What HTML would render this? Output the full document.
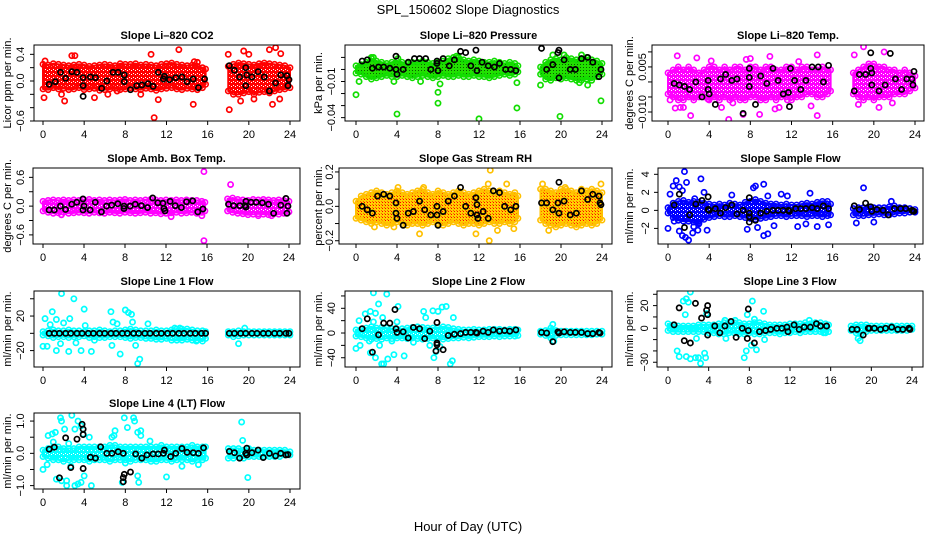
<!DOCTYPE html>
<html><head><meta charset="utf-8"><title>SPL_150602 Slope Diagnostics</title>
<style>
html,body{margin:0;padding:0;background:#fff;}
svg{display:block;font-family:"Liberation Sans",sans-serif;}
</style></head>
<body>
<svg id="fig" xmlns="http://www.w3.org/2000/svg" width="936" height="540" viewBox="0 0 936 540">
<defs>
<pattern id="patGreen" width="3" height="3" patternUnits="userSpaceOnUse"><rect width="3" height="3" fill="#22e000"/><rect x="1" y="1" width="1" height="1" fill="#0a5a00"/></pattern>
<pattern id="patRH" width="3" height="3" patternUnits="userSpaceOnUse"><rect width="3" height="3" fill="#ffd000"/><rect x="1" y="1" width="1" height="1" fill="#ff0000"/><rect x="0" y="0" width="1" height="1" fill="#ff6000"/></pattern>
<pattern id="patRed" width="4" height="4" patternUnits="userSpaceOnUse"><rect width="4" height="4" fill="#ff0000"/><rect x="1" y="1" width="1" height="1" fill="#fff"/><rect x="3" y="2" width="1" height="1" fill="#fff"/></pattern>
<pattern id="patMag" width="4" height="4" patternUnits="userSpaceOnUse"><rect width="4" height="4" fill="#ff00ff"/><rect x="1" y="1" width="1" height="1" fill="#fff"/><rect x="3" y="2" width="1" height="1" fill="#fff"/></pattern>
<pattern id="patBlue" width="4" height="4" patternUnits="userSpaceOnUse"><rect width="4" height="4" fill="#0000ff"/><rect x="1" y="1" width="1" height="1" fill="#fff"/><rect x="3" y="2" width="1" height="1" fill="#fff"/></pattern>
<pattern id="patCyan" width="4" height="4" patternUnits="userSpaceOnUse"><rect width="4" height="4" fill="#00ffff"/><rect x="1" y="1" width="1" height="1" fill="#fff"/><rect x="3" y="2" width="1" height="1" fill="#fff"/></pattern>
</defs>
<text x="468" y="14" text-anchor="middle" font-size="13">SPL_150602  Slope Diagnostics</text>
<text x="468" y="531" text-anchor="middle" font-size="13">Hour of Day (UTC)</text>
</svg>
<script>
const hours = [0,0.5,1,1.5,2,2.5,3,3.5,4,4.5,5,5.5,6,6.5,7,7.5,8,8.5,9,9.5,10,10.5,11,11.5,12,12.5,13,13.5,14,14.5,15,15.5,15.8,18,18.5,19,19.5,20,20.5,21,21.5,22,22.5,23,23.5,24];
const xTicks = [0,4,8,12,16,20,24];

const co2Hi = [0.25,0.24,0.26,0.25,0.24,0.23,0.24,0.25,0.24,0.22,0.23,0.24,0.25,0.24,0.23,0.26,0.25,0.25,0.26,0.24,0.25,0.24,0.23,0.25,0.26,0.27,0.25,0.24,0.23,0.24,0.22,0.2,0.18,0.22,0.25,0.27,0.26,0.25,0.24,0.26,0.27,0.26,0.25,0.24,0.23,0.2];
const co2Lo = [-0.12,-0.13,-0.1,-0.12,-0.11,-0.13,-0.12,-0.1,-0.13,-0.12,-0.11,-0.14,-0.13,-0.12,-0.11,-0.13,-0.12,-0.1,-0.12,-0.13,-0.11,-0.12,-0.14,-0.12,-0.11,-0.1,-0.12,-0.13,-0.11,-0.12,-0.13,-0.1,-0.05,-0.15,-0.2,-0.2,-0.18,-0.16,-0.2,-0.17,-0.16,-0.18,-0.15,-0.13,-0.12,-0.1];
const co2Out = [[0.1,-0.25],[2.1,-0.3],[2.8,0.38],[3.1,0.38],[10.8,-0.55],[10.5,0.4],[11.2,-0.28],[13.2,0.47],[14.6,-0.35],[14.7,0.29],[15,0.28],[18,0.4],[18.1,-0.43],[19.5,0.45],[20,0.4],[22,0.47],[22.6,0.5],[22.3,-0.35],[23.1,0.41],[23,-0.27],[19.2,-0.3],[20.5,-0.27],[1.8,-0.2],[5,-0.25],[7.2,-0.15],[9.5,-0.2],[6.3,-0.2],[0.2,0.3]];
const co2Blk = [[0.6,-0.05],[1.2,-0.01],[1.7,0.13],[2.2,0.04],[2.8,0.14],[3.3,0.13],[3.9,0.05],[3.9,-0.07],[3.9,-0.23],[4.6,0.06],[5.1,0.05],[5.7,-0.11],[6.2,0],[6.8,0.13],[7.3,0.13],[7.9,0.09],[7.9,-0.01],[8.5,-0.13],[9.1,-0.07],[9.6,-0.06],[10.2,-0.04],[10.7,-0.08],[11.2,0.13],[11.7,0.03],[11.8,0.07],[12.3,0.02],[12.9,0.05],[13.5,0.06],[14,-0.01],[14.6,0.03],[15.1,-0.1],[15.7,0.03],[18.1,0.23],[18.6,0.16],[19.1,0.06],[19.7,0.2],[19.8,0.09],[19.7,-0.07],[20.3,0.06],[20.9,0.14],[21.5,0.06],[22,-0.15],[22.6,-0.03],[23.1,0.09],[23.7,0.08],[23.8,-0.07],[23.9,0.02]];

const presHi = [0.003,0.004,0.006,0.009,0.007,0.006,0.005,0.006,0.007,0.006,0.005,0.006,0.006,0.007,0.006,0.005,0.006,0.007,0.009,0.01,0.01,0.008,0.007,0.008,0.007,0.006,0.006,0.007,0.006,0.005,0.006,0.005,0.003,0.002,0.006,0.008,0.009,0.008,0.01,0.009,0.008,0.009,0.01,0.008,0.007,0.005];
const presLo = [-0.003,-0.004,-0.006,-0.008,-0.007,-0.006,-0.005,-0.006,-0.006,-0.005,-0.006,-0.007,-0.006,-0.005,-0.006,-0.007,-0.006,-0.005,-0.006,-0.006,-0.005,-0.006,-0.006,-0.005,-0.006,-0.006,-0.007,-0.006,-0.005,-0.004,-0.005,-0.004,-0.002,-0.004,-0.008,-0.009,-0.007,-0.008,-0.007,-0.008,-0.009,-0.009,-0.008,-0.009,-0.006,-0.004];
const presOut = [[0,-0.021],[0.3,-0.01],[4,-0.037],[8,-0.019],[8,-0.028],[8.2,-0.012],[12,-0.041],[15.7,-0.032],[15.7,-0.011],[18,-0.013],[19.9,-0.039],[20.3,0.012],[9.8,0.011],[10,0.01],[1.5,0.01],[1.7,0.01],[22,0.012],[23.9,-0.026],[4.1,0.009],[6.3,-0.01],[3.7,-0.01],[21.8,-0.011],[22.6,-0.013],[19.2,0.012]];
const presBlk = [[0.6,0.007],[1.1,0.008],[1.6,0.001],[2.2,0.002],[2.7,0.002],[3.3,0.001],[3.9,0.011],[3.9,0],[4,-0.004],[4.6,0],[5.1,0.006],[5.7,0.009],[6.2,0.009],[6.8,0.009],[7.3,0],[7.9,0.007],[7.9,0.005],[8,-0.001],[8.5,0.009],[9.1,0.003],[9.6,0.008],[10.2,0.015],[10.7,0.014],[11.2,0.003],[11.7,0.016],[11.8,-0.001],[12.3,0.006],[12.9,0.003],[13.5,0.002],[14,0.005],[14.6,0],[15.1,0],[15.6,-0.001],[18.1,0.0175],[18.6,0],[19.2,0.004],[19.7,0.014],[19.8,0.016],[19.8,-0.007],[20.3,0.008],[20.9,0],[21.4,0],[22,0.009],[22.6,0.01],[23.1,0.006],[23.7,-0.006],[23.9,0]];

const tempHi = [0.003,0.004,0.005,0.004,0.005,0.004,0.003,0.004,0.005,0.005,0.004,0.005,0.004,0.005,0.005,0.004,0.005,0.005,0.004,0.005,0.005,0.004,0.004,0.005,0.005,0.004,0.005,0.005,0.004,0.004,0.005,0.004,0.004,0.003,0.004,0.005,0.006,0.006,0.005,0.005,0.004,0.004,0.003,0.004,0.003,0.002];
const tempLo = [-0.004,-0.005,-0.006,-0.006,-0.005,-0.006,-0.005,-0.005,-0.006,-0.005,-0.006,-0.005,-0.006,-0.005,-0.006,-0.006,-0.005,-0.005,-0.006,-0.006,-0.005,-0.006,-0.005,-0.005,-0.006,-0.005,-0.005,-0.004,-0.004,-0.005,-0.005,-0.004,-0.003,-0.004,-0.005,-0.006,-0.005,-0.006,-0.005,-0.005,-0.005,-0.004,-0.004,-0.004,-0.003,-0.002];
const tempOut = [[0.9,0.0087],[2.2,-0.0112],[0.7,-0.0087],[1.2,-0.0085],[2.8,0.008],[5.9,-0.0125],[7.3,-0.0108],[8.9,-0.0108],[9.9,0.0085],[10.4,-0.009],[14.5,-0.0112],[13.9,-0.008],[14.5,0.009],[18.1,0.009],[19,0.0117],[21,0.01],[18.5,-0.0075],[20.5,-0.0085],[21.8,-0.007],[0.2,-0.006],[3.9,-0.0058],[6.3,-0.007],[11.6,-0.006],[12.7,0.0068],[8,0.0078],[1.5,-0.0085],[5.2,-0.0085],[10.8,-0.0085],[7.6,0.0075],[4.2,0.007]];
const tempBlk = [[0.6,-0.0005],[1.1,-0.001],[1.6,-0.0015],[2.1,-0.0025],[2.7,0],[3.3,-0.005],[3.9,0.0005],[3.9,-0.0025],[4,-0.004],[4.6,-0.0075],[5.1,0.001],[5.6,0.0025],[6.2,0.0005],[6.7,0.001],[7.3,-0.0105],[7.9,0.0045],[7.9,0.0015],[7.9,-0.0015],[8.5,-0.0075],[9,0.002],[9.6,-0.0005],[10.2,0.0045],[10.7,0.0005],[11.2,-0.004],[11.7,-0.0035],[11.8,-0.0082],[11.9,0.0045],[12.3,0.0005],[12.9,-0.0025],[13.4,0.0005],[14,0.005],[14.6,0.005],[15.1,0],[15.6,0.0055],[18.1,-0.003],[18.6,0.0025],[19.2,0.0025],[19.7,0.0045],[19.8,0.003],[19.8,-0.001],[19.7,0.0097],[20.5,-0.003],[21.1,-0.001],[21.6,0.0095],[22.1,0.001],[22.7,-0.0025],[23.2,0.001],[23.7,0.001],[23.8,-0.001],[23.9,0.0035]];

const ambHi = [0.1,0.12,0.13,0.12,0.13,0.12,0.13,0.12,0.13,0.14,0.12,0.13,0.12,0.13,0.12,0.13,0.14,0.12,0.13,0.12,0.13,0.14,0.13,0.12,0.13,0.12,0.13,0.12,0.13,0.12,0.12,0.1,0.08,0.15,0.17,0.14,0.13,0.12,0.14,0.13,0.14,0.13,0.12,0.13,0.12,0.1];
const ambLo = [-0.1,-0.13,-0.15,-0.14,-0.13,-0.15,-0.14,-0.13,-0.14,-0.15,-0.13,-0.14,-0.15,-0.13,-0.14,-0.15,-0.13,-0.14,-0.15,-0.14,-0.13,-0.15,-0.14,-0.16,-0.15,-0.14,-0.13,-0.15,-0.14,-0.13,-0.15,-0.13,-0.1,-0.1,-0.13,-0.15,-0.16,-0.18,-0.17,-0.16,-0.17,-0.18,-0.16,-0.17,-0.15,-0.12];
const ambOut = [[15.7,0.72],[15.7,-0.72],[18.3,0.45],[12.5,-0.22],[15.5,-0.2],[22.3,-0.2],[1.8,-0.18],[21,-0.2]];
const ambBlk = [[0.6,-0.08],[1.1,-0.08],[1.7,0],[2.2,-0.07],[2.8,0.04],[3.3,0.08],[3.9,0.15],[3.9,-0.08],[4,0],[4.6,-0.08],[5.1,0.08],[5.7,-0.12],[6.2,0],[6.7,0.02],[7.3,0.05],[7.9,0],[7.9,-0.05],[8.5,0],[9,0.04],[9.6,0.01],[10.2,-0.03],[10.7,0.17],[11.2,0.07],[11.7,0.06],[11.8,-0.05],[11.9,-0.1],[12.4,0.1],[12.9,0.01],[13.5,-0.03],[14,0.09],[14.6,0.11],[15.1,-0.12],[15.6,-0.06],[18.1,0.04],[18.6,0.01],[19.2,0.01],[19.7,0.01],[19.8,-0.02],[19.8,0.1],[20.3,0.08],[20.8,0.08],[21.4,0.07],[22,0.04],[22.5,-0.15],[23.2,0.02],[23.7,0.16],[23.8,-0.15],[23.9,0]];

const rhHi = [0.03,0.06,0.07,0.08,0.09,0.08,0.07,0.08,0.09,0.08,0.07,0.08,0.09,0.1,0.08,0.07,0.09,0.08,0.07,0.08,0.09,0.08,0.07,0.08,0.09,0.1,0.09,0.08,0.09,0.08,0.07,0.08,0.06,0.1,0.1,0.09,0.08,0.1,0.1,0.09,0.08,0.1,0.09,0.1,0.09,0.08];
const rhLo = [-0.07,-0.08,-0.09,-0.1,-0.09,-0.1,-0.11,-0.1,-0.09,-0.1,-0.11,-0.1,-0.1,-0.11,-0.1,-0.09,-0.1,-0.11,-0.1,-0.09,-0.1,-0.11,-0.1,-0.1,-0.11,-0.1,-0.09,-0.1,-0.1,-0.09,-0.1,-0.09,-0.07,-0.08,-0.1,-0.11,-0.12,-0.11,-0.1,-0.11,-0.12,-0.11,-0.1,-0.11,-0.1,-0.08];
const rhOut = [[13.1,0.21],[13,-0.2],[6.2,-0.16],[11.7,-0.16],[13.8,-0.14],[18.8,-0.14],[14.7,0.13],[23.9,0.13],[1.8,-0.12],[3.7,-0.12],[12.9,0.13],[4.1,0.11],[6.6,0.11],[15.4,-0.13],[18.2,0.13],[20.4,0.11]];
const rhBlk = [[0.6,0],[1.1,-0.02],[1.6,-0.04],[2.1,0.06],[2.7,0.07],[3.3,0.06],[3.9,0.02],[3.9,-0.04],[4,-0.07],[4.6,-0.11],[5.1,-0.04],[5.6,-0.03],[6.2,0.03],[6.7,-0.02],[7.3,-0.05],[7.9,0],[7.9,-0.05],[8,-0.11],[8.5,-0.03],[9,0.03],[9.6,0.06],[10.2,0.11],[10.7,0],[11.2,-0.04],[11.7,0.05],[11.8,0.01],[11.8,-0.05],[11.9,-0.07],[12.4,-0.03],[12.9,-0.07],[13.4,0.09],[14,0.08],[14.5,0],[15.1,-0.02],[15.6,0],[18.1,0.02],[18.6,0.02],[19.2,-0.02],[19.7,0.02],[19.8,-0.04],[19.8,0.14],[20.3,0.03],[20.9,-0.05],[21.5,-0.04],[22,0.09],[22.6,0.04],[23.1,0.07],[23.7,0.06],[23.8,0.02],[23.9,0.01]];

const sampHi = [0.3,0.8,1.0,1.1,0.9,1.0,0.9,0.8,0.7,0.6,0.7,0.6,0.8,0.7,0.6,0.9,1.0,1.2,1.0,0.8,0.7,0.7,0.6,0.7,0.6,0.6,0.7,0.8,0.7,0.9,1.0,1.0,0.7,0.2,0.3,0.3,0.4,0.3,0.3,0.3,0.4,0.5,0.3,0.3,0.2,0.1];
const sampLo = [-0.3,-0.8,-1.1,-1.2,-1.2,-1.3,-1.5,-1.0,-0.8,-0.7,-0.6,-0.7,-0.7,-0.6,-0.7,-0.8,-0.9,-1.0,-0.9,-0.8,-0.7,-0.6,-0.6,-0.7,-0.6,-0.6,-0.6,-0.7,-0.6,-0.6,-0.7,-0.6,-0.5,-0.5,-0.6,-0.6,-0.5,-0.5,-0.4,-0.5,-0.5,-0.4,-0.3,-0.3,-0.2,-0.2];
const sampOut = [[0,-2],[0.2,1.8],[0.5,2.7],[0.8,3.3],[1.1,2.6],[1.6,4.3],[1.8,3.1],[1.4,2.2],[1.1,-2.3],[1.4,-2.8],[1.7,-3.0],[2.0,-3.3],[2.5,-1.8],[2.9,-2.2],[3.2,3.5],[3.5,2.0],[3.8,-2.2],[6.2,1.7],[7.7,-2.1],[8.3,2.5],[8.5,2.7],[9.3,2.9],[9.3,-2.8],[9.7,-2.6],[10.3,-1.7],[11,1.8],[11.6,1.6],[12.6,-1.8],[13.4,-1.5],[13.8,1.9],[14.5,-1.8],[15.6,-1.6],[18.3,-1.4],[19.0,2.5],[20,-1.3],[21.7,1.0],[9.7,1.6],[2.4,-2.5],[0.6,-1.2],[3.0,-1.4],[8.7,-1.9],[2.6,1.3]];
const sampBlk = [[0.6,0.6],[1.1,1.8],[1.6,-1.9],[2.1,-0.5],[2.7,0.7],[3.3,1.1],[3.9,1.5],[3.9,0.1],[4,0],[4.6,0.2],[5.1,-0.3],[5.6,0.3],[6.2,0.6],[6.7,-0.4],[7.3,0],[7.9,1.4],[7.9,-0.3],[7.9,-0.7],[7.9,-1.3],[8.5,-1.1],[9,-0.3],[9.6,-0.1],[10.2,0],[10.7,0],[11.2,0],[11.7,0],[11.8,-0.1],[12.4,0.2],[12.9,0.2],[13.4,0.2],[14,0.3],[14.5,0.2],[15.1,0.5],[15.6,0.2],[18.1,0.5],[18.6,0.1],[19.2,0.8],[19.7,0.4],[19.8,-0.1],[20.3,0.1],[20.9,0],[21.4,-0.5],[22,0.2],[22.6,0.2],[23.1,0.2],[23.7,0],[23.8,-0.1],[23.9,-0.1]];

const l1Hi = [2,3,4,3,3,4,3,3,2,3,3,4,3,2,3,3,4,5,4,3,3,3,4,3,3,4,5,5,5,4,3,3,2,2,2,3,2,2,2,2,2,2,2,2,2,2];
const l1Lo = [-2,-3,-5,-4,-4,-5,-4,-4,-3,-5,-4,-5,-5,-4,-4,-4,-5,-6,-5,-5,-6,-6,-7,-7,-6,-8,-8,-8,-7,-8,-8,-9,-6,-2,-4,-3,-2,-2,-2,-2,-2,-2,-2,-2,-2,-2];
const l1Out = [[1.8,46],[3.0,40],[0.9,25],[4.0,28],[6.6,25],[8.0,27],[8.3,24],[8.6,22],[0.2,17],[1.3,16],[2.0,12],[2.6,17],[6.8,13],[7.2,11],[8.7,13],[10.2,11],[0,-15],[0.4,-15],[1.3,-20],[2.5,-21],[3.7,-20],[4.7,-21],[7.5,-24],[9.2,-35],[9.4,-30],[9.0,-14],[6.7,-14],[3.2,-11],[1.7,-12],[19.0,-12],[19.6,6],[14.9,-9],[12.8,6],[13.3,6],[0.7,10],[4.1,9],[5.0,-8]];
const l1Blk = [[0.6,0],[1.1,0],[1.6,0],[2.2,0],[2.7,0],[3.3,0],[3.8,0],[4.4,0],[4.9,0],[5.5,0],[6.0,0],[6.6,0],[7.1,0],[7.7,0],[8.2,0],[8.8,0],[9.3,0],[9.9,0],[10.4,0],[11.0,0],[11.5,0],[12.1,0],[12.6,0],[13.2,0],[13.7,0],[14.3,0],[14.8,0],[15.4,0],[15.8,0],[18.1,0],[18.6,0],[19.2,0],[19.7,0],[20.3,0],[20.8,0],[21.4,0],[21.9,0],[22.5,0],[23.0,0],[23.6,0],[23.9,0]];

const l2Hi = [5,6,8,10,8,9,8,7,6,7,8,9,10,9,8,8,9,10,9,7,6,5,5,6,5,5,6,6,6,5,6,6,5,3,4,8,4,3,3,3,3,3,3,3,3,3];
const l2Lo = [-5,-6,-8,-10,-9,-10,-8,-9,-8,-8,-9,-8,-9,-10,-9,-8,-9,-10,-9,-8,-8,-7,-8,-7,-6,-6,-6,-5,-6,-5,-5,-5,-4,-2,-4,-8,-4,-3,-3,-3,-3,-3,-3,-3,-2,-2];
const l2Out = [[1.7,65],[3.0,63],[2.2,47],[4.1,43],[8.0,35],[8.4,42],[8.8,43],[1.4,35],[1.9,32],[0.9,31],[0.3,20],[6.6,35],[6.8,25],[7.5,36],[2.6,25],[9.5,25],[4.0,18],[0,-25],[0.4,-20],[1.3,-13],[1.4,-32],[1.9,-40],[2.5,-50],[2.7,-50],[3.1,-42],[2.3,-20],[3.7,-35],[4.7,-37],[7.6,-40],[7.8,-30],[9.2,-50],[9.4,-45],[7.2,-20],[19.2,14],[19.3,-13],[3.5,-13],[1.7,18],[5.6,-15],[8.2,-22]];
const l2Blk = [[0.6,7],[1.1,23],[1.6,-31],[2.2,-3],[2.7,16],[3.3,16],[3.8,38],[3.9,7],[4,1],[4.6,2],[5.1,-8],[5.6,9],[6.2,7],[6.7,-9],[7.2,3],[7.9,17],[7.9,-16],[7.9,-19],[7.8,-29],[8.5,-27],[9,-4],[9.6,-2],[10.2,-1],[10.7,1],[11.2,1],[11.7,1],[11.8,0],[12.4,3],[12.9,1],[13.4,5],[14,3],[14.5,4],[15,3],[15.6,5],[18.1,1],[18.6,0],[19.2,-14],[19.7,2],[19.8,0],[20.3,2],[20.9,1],[21.4,1],[22,1],[22.6,-1],[23.1,-1],[23.7,1],[23.8,0]];

const l3Hi = [4,3,2,2,2,2,3,3,3,3,4,5,5,5,5,4,4,5,5,4,3,3,3,3,4,4,4,5,4,5,5,4,3,2,3,3,3,2,2,2,2,2,2,2,2,2];
const l3Lo = [-2,-3,-3,-3,-3,-3,-3,-3,-4,-4,-5,-5,-4,-4,-5,-5,-4,-5,-5,-4,-4,-4,-5,-4,-4,-3,-4,-3,-3,-3,-3,-4,-3,-2,-4,-5,-3,-2,-2,-2,-2,-2,-2,-2,-2,-1];
const l3Out = [[1.5,24],[1.8,26],[2.2,32],[2.0,23],[1.7,12],[3.8,13],[8.3,24],[7.8,12],[9.4,15],[0.9,-20],[1.1,-25],[1.8,-25],[2.2,-27],[2.7,-26],[3.0,-26],[3.2,-31],[3.6,-22],[3.7,-26],[7.5,-26],[7.7,-20],[8.2,-15],[8.7,-19],[9.5,-10],[2.8,-9],[5.7,-9],[18.7,-9],[18.9,-11],[13.9,7],[15.3,-4],[5.6,7],[6.6,7],[8.5,8]];
const l3Blk = [[0.6,3],[1.1,18],[1.6,-11],[2.2,-13],[2.7,22],[3.3,9],[3.8,16],[3.9,20],[3.9,12],[3.9,-6],[4.6,2],[5.1,-4],[5.6,2],[6.2,6],[6.7,-8],[7.3,0],[7.9,17],[7.9,-2],[7.8,-9],[8.5,-13],[9,-3],[9.6,-2],[10.1,-1],[10.7,0],[11.2,0],[11.7,1],[11.8,-3],[12.4,3],[12.9,-1],[13.4,1],[14,1],[14.6,4],[15,2],[15.6,2],[18.1,-1],[18.6,-1],[19.2,-6],[19.7,0],[19.8,0],[20.3,0],[20.9,-1],[21.4,0],[22,1],[22.6,-1],[23.1,-1],[23.7,0],[23.8,-1]];

const l4Hi = [0.1,0.15,0.2,0.2,0.15,0.15,0.15,0.2,0.2,0.2,0.2,0.2,0.2,0.25,0.25,0.2,0.2,0.2,0.2,0.2,0.2,0.2,0.2,0.25,0.2,0.2,0.2,0.2,0.2,0.25,0.2,0.2,0.2,0.15,0.15,0.15,0.1,0.15,0.1,0.1,0.1,0.1,0.1,0.1,0.1,0.05];
const l4Lo = [-0.1,-0.15,-0.2,-0.2,-0.25,-0.2,-0.2,-0.2,-0.2,-0.25,-0.2,-0.2,-0.2,-0.25,-0.2,-0.2,-0.2,-0.25,-0.2,-0.2,-0.2,-0.25,-0.25,-0.2,-0.2,-0.25,-0.2,-0.2,-0.2,-0.25,-0.2,-0.2,-0.15,-0.15,-0.15,-0.1,-0.15,-0.1,-0.1,-0.1,-0.1,-0.1,-0.1,-0.1,-0.05,-0.05];
const l4Out = [[0.5,0.55],[0.9,0.6],[1.2,0.65],[1.7,1.1],[1.8,1.0],[2.1,0.75],[2.8,1.18],[3.1,0.75],[3.4,1.0],[3.7,0.85],[3.9,0.6],[7.0,0.7],[7.9,1.1],[8.2,0.8],[8.8,1.1],[8.9,1.0],[9.2,0.65],[9.5,0.7],[9.5,0.55],[10.4,0.38],[19.3,0.97],[19.4,0.4],[0,-0.5],[0.4,-0.35],[1.3,-0.8],[1.8,-0.85],[2.3,-0.85],[2.3,-1.0],[2.7,-0.4],[3.1,-1.0],[3.4,-0.95],[3.7,-0.9],[4.7,-1.0],[4.0,-0.7],[7.7,-0.9],[8.0,-0.3],[9.3,-0.9],[9.2,-0.7],[12.0,-0.73],[13.5,-0.4],[15.1,-0.35],[19.9,-0.75],[4.5,0.5],[6.7,0.5],[6.9,0.55],[1.0,0.35],[2.5,0.3]];
const l4Blk = [[0.6,0.13],[1.1,0.19],[1.6,-0.76],[2.2,0.48],[2.7,-0.44],[3.3,0.44],[3.8,0.9],[3.9,0.75],[3.9,0.58],[3.9,-0.47],[4.6,-0.12],[5.1,-0.15],[5.6,0.2],[6.2,0],[6.7,0],[7.3,0.05],[7.8,0],[7.9,-0.65],[7.8,-0.75],[7.8,-0.88],[8.5,-0.58],[9,-0.02],[9.6,-0.15],[10.1,-0.05],[10.7,-0.02],[11.2,-0.02],[11.7,0],[11.8,0.1],[12.4,-0.1],[12.9,0],[13.5,0.15],[14,0.03],[14.6,0.02],[15.1,0],[15.6,0.17],[18.1,0.06],[18.6,0.02],[19.1,-0.15],[19.7,0],[19.8,0.16],[19.8,-0.05],[20.3,0.02],[20.9,0.1],[21.4,-0.13],[22,0],[22.6,-0.08],[23.1,0],[23.6,-0.05],[23.8,-0.04]];

const panels = [
 {id:'co2', title:'Slope Li\u2013820 CO2', ylab:'Licor ppm per min.', hi:co2Hi, lo:co2Lo, out:co2Out, blk:co2Blk, color:'#ff0000', fill:'url(#patRed)',
  box:[34,45,300,121], x0:43, x24:290, ylim:[-0.6,0.54], ticks:[-0.6,-0.4,-0.2,0,0.2,0.4], labels:[[-0.6,'\u22120.6'],[0,'0.0'],[0.4,'0.4']], ylabX:8, tlX:21},
 {id:'pressure', title:'Slope Li\u2013820 Pressure', ylab:'kPa per min.', hi:presHi, lo:presLo, out:presOut, blk:presBlk, color:'#11dd00', fill:'url(#patGreen)',
  box:[345,45,612,121], x0:356, x24:602, ylim:[-0.0428,0.0203], ticks:[-0.04,-0.03,-0.02,-0.01,0,0.01], labels:[[-0.04,'\u22120.04'],[-0.01,'\u22120.01']], ylabX:319, tlX:332},
 {id:'temp', title:'Slope Li\u2013820 Temp.', ylab:'degrees C per min.', hi:tempHi, lo:tempLo, out:tempOut, blk:tempBlk, color:'#ff00ff', fill:'url(#patMag)',
  box:[652,45,924,121], x0:668, x24:915, ylim:[-0.013,0.0123], ticks:[-0.01,-0.005,0,0.005,0.01], labels:[[-0.01,'\u22120.010'],[0.005,'0.005']], ylabX:630, tlX:643},
 {id:'amb-box-temp', title:'Slope Amb. Box Temp.', ylab:'degrees C per min.', hi:ambHi, lo:ambLo, out:ambOut, blk:ambBlk, color:'#ff00ff', fill:'url(#patMag)',
  box:[33,168,300,244], x0:43, x24:289, ylim:[-0.79,0.795], ticks:[-0.6,-0.3,0,0.3,0.6], labels:[[-0.6,'\u22120.6'],[0,'0.0'],[0.6,'0.6']], ylabX:8, tlX:21},
 {id:'gas-stream-rh', title:'Slope Gas Stream RH', ylab:'percent per min.', hi:rhHi, lo:rhLo, out:rhOut, blk:rhBlk, color:'#ffc000', fill:'url(#patRH)',
  box:[339,168,612,244], x0:356, x24:602, ylim:[-0.219,0.223], ticks:[-0.2,-0.1,0,0.1,0.2], labels:[[-0.2,'\u22120.2'],[0,'0.0'],[0.2,'0.2']], ylabX:319, tlX:330},
 {id:'sample-flow', title:'Slope Sample Flow', ylab:'ml/min per min.', hi:sampHi, lo:sampLo, out:sampOut, blk:sampBlk, color:'#0000ff', fill:'url(#patBlue)',
  box:[658,168,923,244], x0:668, x24:915, ylim:[-3.73,4.7], ticks:[-2,0,2,4], labels:[[-2,'\u22122'],[0,'0'],[2,'2'],[4,'4']], ylabX:630, tlX:646},
 {id:'line-1-flow', title:'Slope Line 1 Flow', ylab:'ml/min per min.', hi:l1Hi, lo:l1Lo, out:l1Out, blk:l1Blk, color:'#00ffff', fill:'url(#patCyan)',
  box:[34,291,300,367], x0:43, x24:290, ylim:[-39,49], ticks:[-20,0,20,40], labels:[[-20,'\u221220'],[20,'20']], ylabX:8, tlX:21},
 {id:'line-2-flow', title:'Slope Line 2 Flow', ylab:'ml/min per min.', hi:l2Hi, lo:l2Lo, out:l2Out, blk:l2Blk, color:'#00ffff', fill:'url(#patCyan)',
  box:[345,291,612,367], x0:356, x24:602, ylim:[-55,68], ticks:[-40,-20,0,20,40,60], labels:[[-40,'\u221240'],[0,'0'],[40,'40']], ylabX:319, tlX:332},
 {id:'line-3-flow', title:'Slope Line 3 Flow', ylab:'ml/min per min.', hi:l3Hi, lo:l3Lo, out:l3Out, blk:l3Blk, color:'#00ffff', fill:'url(#patCyan)',
  box:[657,291,923,367], x0:668, x24:912, ylim:[-34.2,32.9], ticks:[-30,-20,-10,0,10,20,30], labels:[[-30,'\u221230'],[0,'0'],[20,'20']], ylabX:630, tlX:645},
 {id:'line-4-flow', title:'Slope Line 4 (LT) Flow', ylab:'ml/min per min.', hi:l4Hi, lo:l4Lo, out:l4Out, blk:l4Blk, color:'#00ffff', fill:'url(#patCyan)',
  box:[34,413,300,489], x0:43, x24:290, ylim:[-1.105,1.25], ticks:[-1,-0.5,0,0.5,1], labels:[[-1,'\u22121.0'],[0,'0.0'],[1,'1.0']], ylabX:8, tlX:21}
];

const NS = 'http://www.w3.org/2000/svg';
const svg = document.getElementById('fig');
function mk(parent, tag, attrs, text) {
  const el = document.createElementNS(NS, tag);
  for (const k in attrs) el.setAttribute(k, attrs[k]);
  if (text !== undefined) el.textContent = text;
  parent.appendChild(el);
  return el;
}

panels.forEach(function (p) {
  const [L, T, R, B] = p.box;
  const xs = function (h) { return p.x0 + h / 24 * (p.x24 - p.x0); };
  const ys = function (v) { return B - (v - p.ylim[0]) / (p.ylim[1] - p.ylim[0]) * (B - T); };
  const g = mk(svg, 'g', {});
  
  

  const clip = mk(svg.querySelector('defs'), 'clipPath', {id: 'clip-' + p.id});
  mk(clip, 'rect', {x: L, y: T, width: R - L, height: B - T});

  const title = mk(g, 'text', {x: (L + R) / 2, y: T - 6, 'text-anchor': 'middle', 'font-size': 11, 'font-weight': 'bold'}, p.title);
  
  

  const yl = mk(g, 'text', {x: p.ylabX, y: (T + B) / 2, 'text-anchor': 'middle', 'font-size': 11, 'dominant-baseline': 'central', transform: 'rotate(-90 ' + p.ylabX + ' ' + (T + B) / 2 + ')'}, p.ylab);
  
  

  const plot = mk(g, 'g', {'clip-path': 'url(#clip-' + p.id + ')'});
  
  

  let segs = [[0]];
  for (let i = 1; i < hours.length; i++) {
    if (hours[i] - hours[i - 1] > 1) segs.push([i]); else segs[segs.length - 1].push(i);
  }
  segs.forEach(function (idx) {
    const top = idx.map(function (i) { return xs(hours[i]) + ',' + ys(p.hi[i]); });
    const bot = idx.slice().reverse().map(function (i) { return xs(hours[i]) + ',' + ys(p.lo[i]); });
    const band = mk(plot, 'polygon', {points: top.concat(bot).join(' '), fill: p.fill, stroke: p.color, 'stroke-width': 2, 'stroke-linejoin': 'round'});
    
    
  });
  hours.forEach(function (h, i) {
    [p.hi[i], p.lo[i]].forEach(function (v) {
      const c = mk(plot, 'circle', {cx: xs(h), cy: ys(v), r: 2.6, fill: 'none', stroke: p.color, 'stroke-width': 1.6});
      
      
    });
  });
  p.out.forEach(function (d) {
    const c = mk(plot, 'circle', {cx: xs(d[0]), cy: ys(d[1]), r: 2.6, fill: 'none', stroke: p.color, 'stroke-width': 1.7});
    
    
  });
  p.blk.forEach(function (d) {
    const c = mk(plot, 'circle', {cx: xs(d[0]), cy: ys(d[1]), r: 2.6, fill: 'none', stroke: '#000', 'stroke-width': 1.7});
    
    
  });

  const box = mk(g, 'rect', {x: L, y: T, width: R - L, height: B - T, fill: 'none', stroke: '#000', 'stroke-width': 1});
  
  

  xTicks.forEach(function (h) {
    const tk = mk(g, 'line', {x1: xs(h), x2: xs(h), y1: B, y2: B + 4, stroke: '#000', 'stroke-width': 1});
    
    
    const lb = mk(g, 'text', {x: xs(h), y: B + 17, 'text-anchor': 'middle', 'font-size': 11}, String(h));
    
    
  });
  p.ticks.forEach(function (v) {
    const tk = mk(g, 'line', {x1: L - 4, x2: L, y1: ys(v), y2: ys(v), stroke: '#000', 'stroke-width': 1});
    
    
  });
  p.labels.forEach(function (d) {
    const y = ys(d[0]);
    const lb = mk(g, 'text', {x: p.tlX, y: y, 'text-anchor': 'middle', 'dominant-baseline': 'central', 'font-size': 11, transform: 'rotate(-90 ' + p.tlX + ' ' + y + ')'}, d[1]);
    
    
  });
});
</script>
</body></html>
